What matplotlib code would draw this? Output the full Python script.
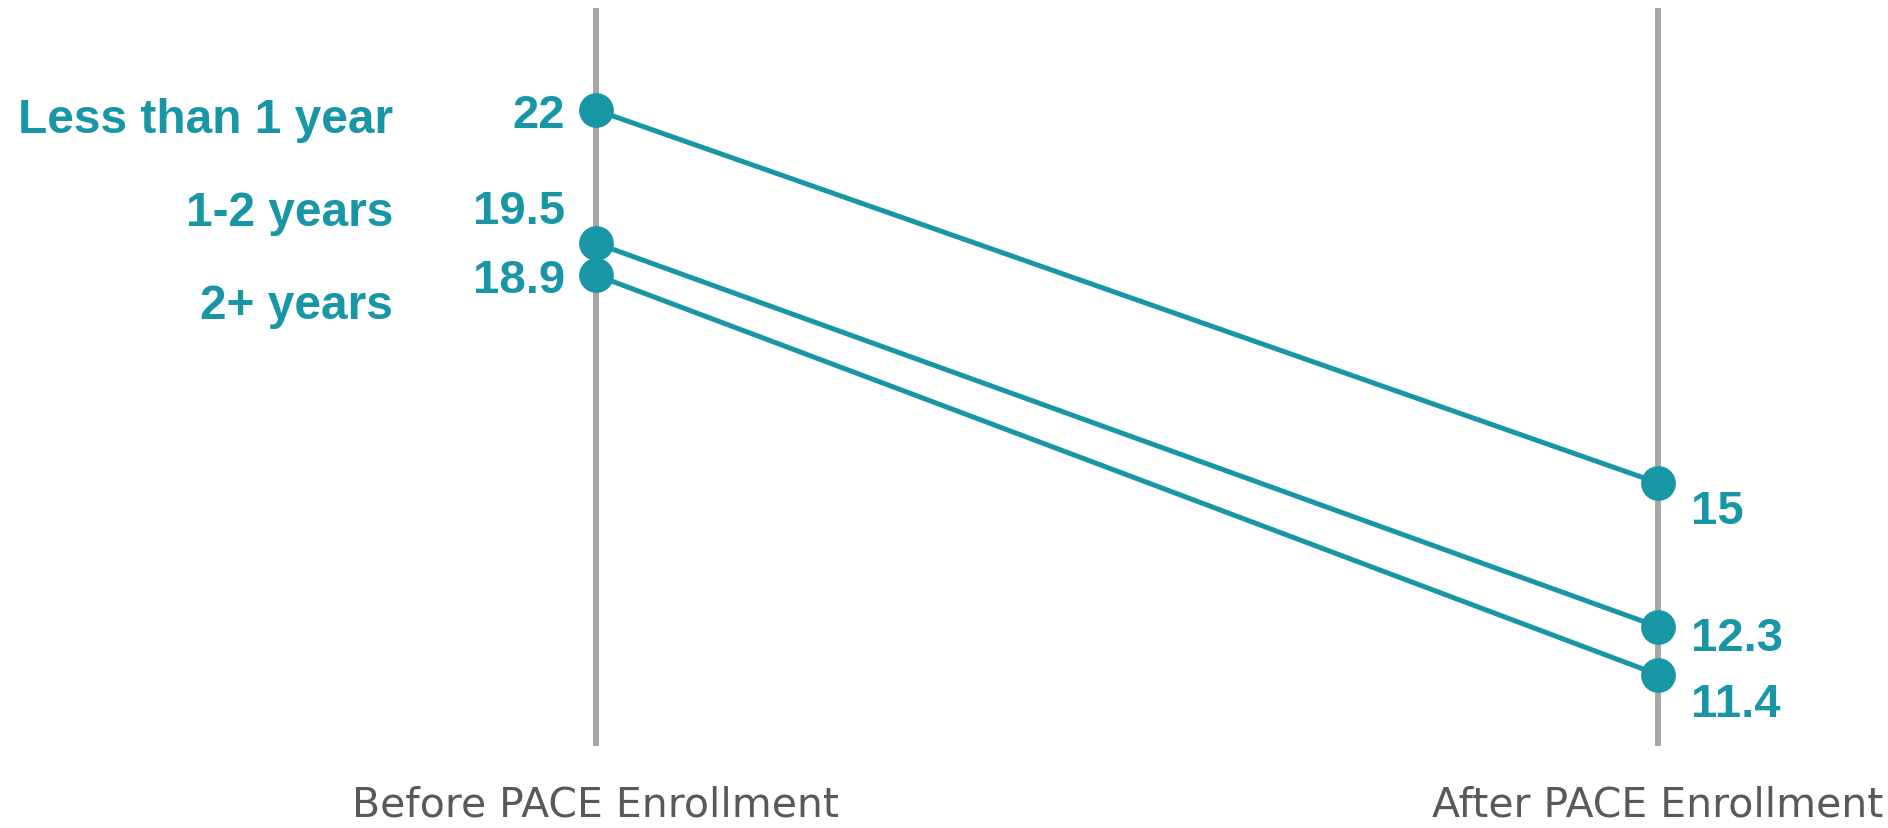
import matplotlib.pyplot as plt

periods = ['Before PACE Enrollment', 'After PACE Enrollment']
groups = ['Less than 1 year', '1-2 years', '2+ years']
before = [22, 19.5, 18.9]
after = [15, 12.3, 11.4]

TEAL = '#1996a6'
GRID = '#a6a6a6'
W, H = 1888, 829

plt.rcParams['font.family'] = ['Liberation Sans', 'DejaVu Sans']

fig = plt.figure(figsize=(W / 100, H / 100), dpi=100)
# axes spans exactly the grey guide lines (pixel rows 9..747)
ax = fig.add_axes([0, 82 / H, 1, 738 / H])
ax.set_xlim(-0.5612, 1.2166)
ax.set_ylim(10.06, 23.915)

for b, a in zip(before, after):
    ax.plot([0, 1], [b, a], color=TEAL, lw=3.6, marker='o', ms=24,
            clip_on=False, zorder=3)

# baseline offsets in pixels, nudged so close labels don't collide
left_dy = [-17, 20, -17]
right_dy = [-40, -23, -41]
for b, dy in zip(before, left_dy):
    ax.annotate(f'{b:g}', (0, b), xytext=(-31, dy), textcoords='offset pixels',
                ha='right', va='baseline', color=TEAL, fontsize=34,
                fontweight='bold')
for a, dy in zip(after, right_dy):
    ax.annotate(f'{a:g}', (1, a), xytext=(33, dy), textcoords='offset pixels',
                ha='left', va='baseline', color=TEAL, fontsize=34,
                fontweight='bold')

# group names stacked at the left like a legend
for i, g in enumerate(groups):
    fig.text(393 / W, 1 - (133 + 93 * i) / H, g, ha='right', va='baseline',
             color=TEAL, fontsize=34.5, fontweight='bold')

ax.set_xticks([0, 1], periods)
ax.tick_params(axis='x', length=0, pad=28, labelsize=29.5, labelcolor='#595959')
for lbl in ax.get_xticklabels():
    lbl.set_fontfamily('DejaVu Sans')
ax.set_yticks([])
ax.grid(axis='x', color=GRID, lw=4.3)
ax.set_axisbelow(True)
for s in ax.spines.values():
    s.set_visible(False)

fig.savefig('out.png', dpi=100)
